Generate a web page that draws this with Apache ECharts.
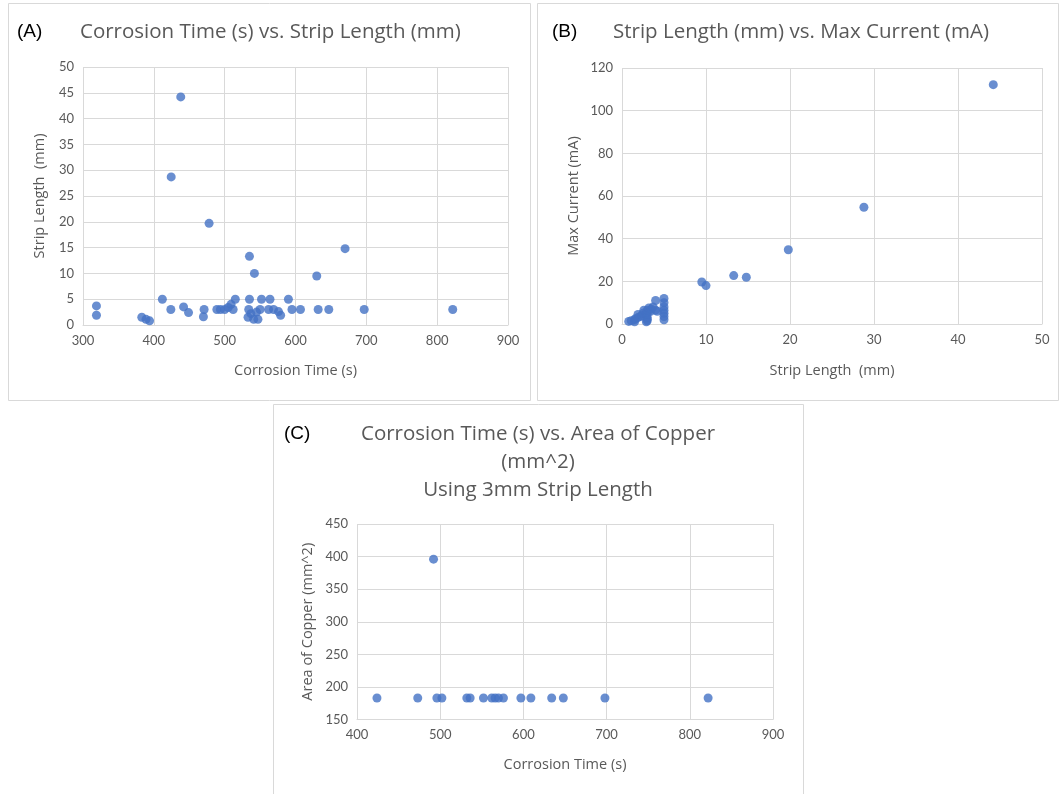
<!DOCTYPE html>
<html>
<head>
<meta charset="utf-8">
<script src="https://cdn.jsdelivr.net/npm/echarts@6/dist/echarts.min.js"></script>
<style>
  html, body { margin: 0; padding: 0; background: #ffffff; }
  #chart { width: 1060px; height: 794px; }
</style>
</head>
<body>
<div id="chart"></div>
<script>
// ---- Panel A: Corrosion Time (s) vs Strip Length (mm)
const aTime  = [319,319,383,389,394,412,424,424.5,438,442,449,470,471,478,489,494,500,505,509,512,515,533,534,535,535,537,541,542,545,547,550,552,562,564,569,576,579,590,595,607,630,632,647,670,697,822];
const aStrip = [3.7,1.9,1.5,1.1,0.8,5,3,28.7,44.2,3.5,2.4,1.6,3,19.7,3,3,3,3.4,4,3,5,1.5,3,13.3,5,2.2,1.1,10,2.5,1.1,3,5,3,5,3,2.6,1.9,5,3,3,9.5,3,3,14.8,3,3];

// ---- Panel B: Strip Length (mm) vs Max Current (mA)
const bStrip   = [0.8,1.1,1.5,1.5,1.6,1.9,1.9,2.2,2.4,2.5,2.6,2.9,3,3,3,3,3,3,3.2,3.4,3.5,3.7,4,4,4.2,5,5,5,5,5,5,5,9.5,10,13.3,14.8,19.8,28.8,44.2];
const bCurrent = [1.2,1.5,2,1,2.5,3,4.5,3.5,4,5,6.5,1,1.5,2.2,3,4.5,5.5,6.5,7.5,6,7,8,11,6.5,6,12,10,8,6.5,5,3.5,2,19.7,18,22.7,21.9,34.8,54.7,112.2];

// ---- Panel C: Corrosion Time (s) vs Area of Copper (mm^2), 3mm strip
const cTime = [424,473,492,496,502,532,536,552,562,566,570,576,597,609,634,648,698,822];
const cArea = [183,183,396,183,183,183,183,183,183,183,183,183,183,183,183,183,183,183];

// ---- Axis ranges / ticks
const aXRange = [300, 900, 100];
const aYRange = [0, 50, 5];
const bXRange = [0, 50, 10];
const bYRange = [0, 120, 20];
const cXRange = [400, 900, 100];
const cYRange = [150, 450, 50];

// ---- Titles
const titleA = 'Corrosion Time (s) vs. Strip Length (mm)';
const titleB = 'Strip Length (mm) vs. Max Current (mA)';
const titleC = 'Corrosion Time (s) vs. Area of Copper\n(mm^2)\nUsing 3mm Strip Length';

const FONT = '"Open Sans"';
const TICK_FONT = 'Lato';
const GRID_COLOR = '#d9d9d9';
const LABEL_COLOR = '#595959';
const DOT = '#4472C4';

function pairs(xs, ys) { return xs.map((x, i) => [x, ys[i]]); }

function xAx(idx, r, name, gap) {
  return {
    type: 'value', gridIndex: idx, min: r[0], max: r[1], interval: r[2],
    name: name, nameLocation: 'middle', nameGap: gap,
    nameTextStyle: { color: LABEL_COLOR, fontSize: 14.5, fontFamily: FONT },
    axisLine: { show: true, lineStyle: { color: GRID_COLOR } },
    axisTick: { show: false },
    axisLabel: { color: LABEL_COLOR, fontSize: 13, fontFamily: TICK_FONT, margin: 9 },
    splitLine: { show: true, lineStyle: { color: GRID_COLOR } }
  };
}
function yAx(idx, r, name, gap) {
  return {
    type: 'value', gridIndex: idx, min: r[0], max: r[1], interval: r[2],
    name: name, nameLocation: 'middle', nameGap: gap, nameRotate: 90,
    nameTextStyle: { color: LABEL_COLOR, fontSize: 14.5, fontFamily: FONT },
    axisLine: { show: false },
    axisTick: { show: false },
    axisLabel: { color: LABEL_COLOR, fontSize: 13, fontFamily: TICK_FONT, margin: 9 },
    splitLine: { show: true, lineStyle: { color: GRID_COLOR } }
  };
}

const chart = echarts.init(document.getElementById('chart'), null, { renderer: 'canvas' });
chart.setOption({
  backgroundColor: '#ffffff',
  animation: false,
  grid: [
    { left: 83, top: 67, width: 425, height: 258 },
    { left: 622, top: 68, width: 420, height: 256 },
    { left: 357, top: 524, width: 416, height: 195.5 }
  ],
  xAxis: [
    xAx(0, aXRange, 'Corrosion Time (s)', 38),
    xAx(1, bXRange, 'Strip Length  (mm)', 39),
    xAx(2, cXRange, 'Corrosion Time (s)', 38)
  ],
  yAxis: [
    yAx(0, aYRange, 'Strip Length  (mm)', 36),
    yAx(1, bYRange, 'Max Current (mA)', 41),
    yAx(2, cYRange, 'Area of Copper (mm^2)', 42)
  ],
  series: [
    { type: 'scatter', xAxisIndex: 0, yAxisIndex: 0, data: pairs(aTime, aStrip), symbolSize: 9, itemStyle: { color: DOT } },
    { type: 'scatter', xAxisIndex: 1, yAxisIndex: 1, data: pairs(bStrip, bCurrent), symbolSize: 9, itemStyle: { color: DOT } },
    { type: 'scatter', xAxisIndex: 2, yAxisIndex: 2, data: pairs(cTime, cArea), symbolSize: 9, itemStyle: { color: DOT } }
  ],
  graphic: [
    { type: 'rect', shape: { x: 8.5, y: 3.5, width: 522, height: 397 }, style: { fill: 'none', stroke: GRID_COLOR, lineWidth: 1 }, silent: true },
    { type: 'rect', shape: { x: 537.5, y: 3.5, width: 521, height: 397 }, style: { fill: 'none', stroke: GRID_COLOR, lineWidth: 1 }, silent: true },
    { type: 'rect', shape: { x: 273.5, y: 404.5, width: 530, height: 400 }, style: { fill: 'none', stroke: GRID_COLOR, lineWidth: 1 }, silent: true },
    { type: 'text', x: 17, y: 32, style: { text: '(A)', fill: '#000000', font: '19px "Liberation Sans"', verticalAlign: 'middle', align: 'left' } },
    { type: 'text', x: 80, y: 32, style: { text: titleA, fill: LABEL_COLOR, font: '20.5px ' + FONT, verticalAlign: 'middle', align: 'left' } },
    { type: 'text', x: 552, y: 32, style: { text: '(B)', fill: '#000000', font: '19px "Liberation Sans"', verticalAlign: 'middle', align: 'left' } },
    { type: 'text', x: 613, y: 32, style: { text: titleB, fill: LABEL_COLOR, font: '20.5px ' + FONT, verticalAlign: 'middle', align: 'left' } },
    { type: 'text', x: 284, y: 434, style: { text: '(C)', fill: '#000000', font: '19px "Liberation Sans"', verticalAlign: 'middle', align: 'left' } },
    { type: 'text', x: 538, y: 420, style: { text: titleC, fill: LABEL_COLOR, font: '20.5px ' + FONT, lineHeight: 28, verticalAlign: 'top', align: 'center' } }
  ]
});
</script>
</body>
</html>
